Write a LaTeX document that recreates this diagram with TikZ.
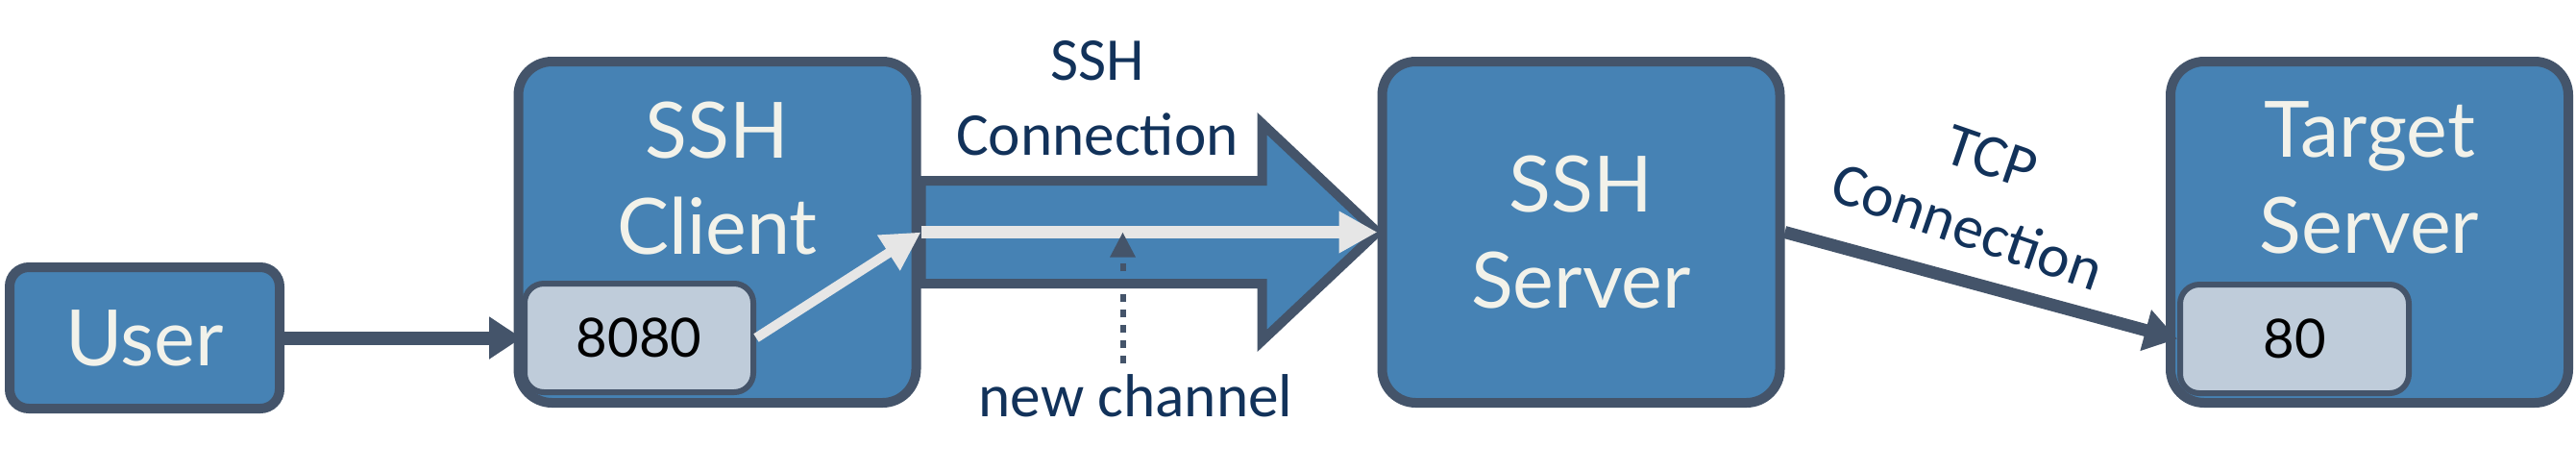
\documentclass[tikz,border=0pt]{standalone}
\usepackage{fontspec}
\setmainfont{Carlito}
\newfontfamily\boxfont{Lato}
\usetikzlibrary{arrows.meta,positioning,backgrounds}
\definecolor{boxblue}{HTML}{4682B4}
\definecolor{boxline}{HTML}{44546A}
\definecolor{portfill}{HTML}{BFCCDA}
\definecolor{lightline}{HTML}{E6E6E6}
\definecolor{boxtext}{HTML}{F2F2EA}
\definecolor{labeltext}{HTML}{12325A}

\begin{document}
\begin{tikzpicture}[
	main node/.style = {rectangle, rounded corners=3.5mm, draw=boxline, fill=boxblue, line width=1mm, minimum width=4.14cm, minimum height=3.55cm},
	title node/.style = {inner sep=0pt, align=center, text=boxtext, font=\boxfont\fontsize{23}{28.5}\selectfont},
	user node/.style = {main node, title node, rounded corners=2mm, minimum width=2.81cm, minimum height=1.47cm},
	port node/.style = {rectangle, rounded corners=2mm, draw=boxline, fill=portfill, line width=0.6mm, minimum width=2.38cm, minimum height=1.13cm, font=\boxfont\fontsize{16}{19}\selectfont},
	label node/.style = {inner sep=1mm, align=center, text=labeltext, font=\fontsize{18}{22}\selectfont},
	dark arrow/.style = {draw=boxline, line width=1.4mm, -{Triangle[length=3.4mm,width=4.2mm]}},
	light arrow/.style = {draw=lightline, -{Triangle[length=4mm,width=4.1mm]}}]
	\useasboundingbox (0,0) rectangle (26.81,-4.90);

	% boxes
	\node[user node] (user) at (1.505,-3.515) {User};
	\node[main node] (client) at (7.465,-2.415) {};
	\node[title node, below=4.6mm of client.north] (clienttitle) {SSH\\Client};
	\node[port node] (port8080) at (6.65,-3.515) {8080};
	\node[main node, title node] (server) at (16.455,-2.415) {SSH\\Server};
	\node[main node] (target) at (24.66,-2.415) {};
	\node[title node, below=4.6mm of target.north] (targettitle) {Target\\Server};
	\node[port node] (port80) at (23.88,-3.525) {80};

	% labels
	\node[label node, anchor=north] (sshconn) at (11.42,-0.32) {SSH\\Connection};
	\node[label node, anchor=base] (newchan) at (11.82,-4.33) {new channel};
	\node[label node, rotate=-19] (tcpconn) at (20.60,-2.00) {TCP\\Connection};

	% the tunnel
	\begin{scope}[on background layer]
	\draw[draw=boxline, fill=boxblue, line width=1mm]
	([yshift=5.35mm]client.east) -- ([xshift=-12mm,yshift=5.35mm]server.west)
	-- ([xshift=-12mm,yshift=11.3mm]server.west) -- (server.west)
	-- ([xshift=-12mm,yshift=-11.3mm]server.west) -- ([xshift=-12mm,yshift=-5.35mm]server.west)
	-- ([yshift=-5.35mm]client.east) -- cycle;
	\end{scope}

	\draw[dark arrow] (user.east) -- (port8080.west);
	\draw[light arrow, line width=1mm] (port8080.east) -- (client.east);
	\draw[light arrow, line width=1.3mm] (client.east) -- (server.west);
	\coordinate (chan) at ([xshift=21mm]client.east);
	\draw[draw=boxline, line width=0.6mm, dash pattern=on 0.8mm off 0.8mm,
	-{Triangle[length=2.6mm,width=2.5mm]}] (newchan.north -| chan) -- (chan);
	\draw[dark arrow, line width=1.3mm] (server.east) -- (port80.west);
\end{tikzpicture}
\end{document}
